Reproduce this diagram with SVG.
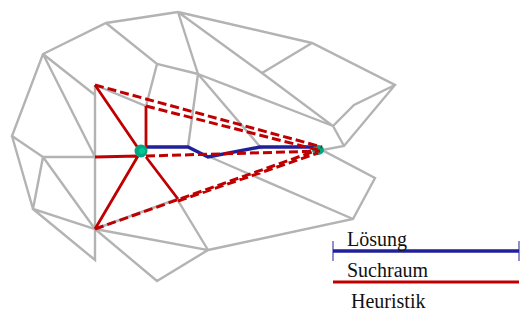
<svg xmlns="http://www.w3.org/2000/svg" width="520" height="321" viewBox="0 0 520 321">
<style>
.g{fill:none;stroke:#b3b3b3;stroke-width:2.4}
.r{fill:none;stroke:#c00000;stroke-width:2.8}
.d{fill:none;stroke:#c00000;stroke-width:3;stroke-dasharray:9 4}
.b{fill:none;stroke:#20209a;stroke-width:3.4}
text{font-family:"Liberation Serif","Times New Roman",serif;font-size:20px;fill:#111}
</style>
<rect width="520" height="321" fill="#fff"/>
<g id="connectors">
<path class="g" d="M178 12L106 23L43 54L12 136L43 157L33 209L95 229L95 260L33 209M12 136L33 209M43 54L95 95M43 54L95 157M43 157H95M43 157L95 229M95 85V229M95 229L157 281L208 250L95 229M208 250L353 219L375 178L322 150L344 146L395 85L312 43L178 12M106 23L157 64L198 74L178 12M178 12L262 73L333 126L344 146M262 73L312 43M395 85L354 105L333 126M198 74L333 126M198 74L262 149M198 74L188 147M157 64L146 106L95 85M95 229L177 199L208 250M210 157L353 219"/>
<path class="b" d="M146 147H188L208 157L260 147H316"/>
<path class="r" d="M95 85L138 148M146 106V147M95 157L138 156M95 229L138 156M146 157L178 199"/>
<circle cx="141" cy="151" r="6.5" fill="#00a67e"/><circle cx="142" cy="151" r="3" fill="#00c79a"/>
<ellipse cx="318" cy="150" rx="6" ry="5" fill="#00a67e"/>
<path class="d" d="M95 85L322 147M146 106L318 150M146 156L320 151M95 229L318 150M178 201L318 153"/>
</g>
<g id="legend-loesung"><path class="b" d="M333 251H519"/><path d="M333 241V261M519 241V261" fill="none" stroke="#20209a" stroke-width="1"/><text x="347" y="246">Lösung</text></g>
<g id="legend-suchraum"><path d="M333 282H519" fill="none" stroke="#c00000" stroke-width="2.8"/><text x="347" y="277">Suchraum</text></g>
<g id="legend-heuristik"><text x="351" y="308">Heuristik</text></g>
</svg>
